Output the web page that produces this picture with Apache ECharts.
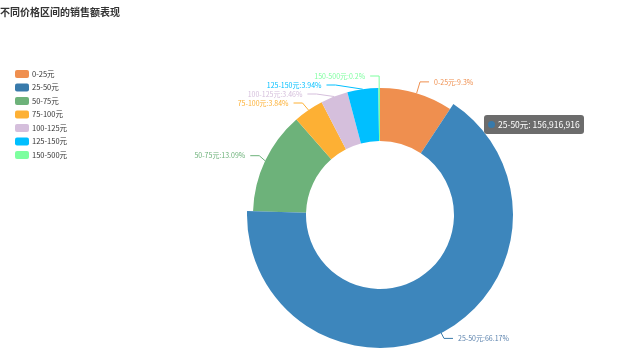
<!DOCTYPE html>
<html>
<head>
<meta charset="utf-8">
<script src="https://cdn.jsdelivr.net/npm/echarts@6/dist/echarts.min.js"></script>
<style>html,body{margin:0;padding:0;background:#fff}#c{width:640px;height:358px}</style>
</head>
<body>
<div id="c"></div>
<script>
var categories = ['0-25元','25-50元','50-75元','75-100元','100-125元','125-150元','150-500元'];
var salesValues = [22054270, 156916916, 31041978, 9106279, 8205137, 9343422, 474285];
var colors = ['#ef8f4f','#387aab','#6db27a','#fdb034','#d5bfdc','#00bfff','#7dff9f'];
var labelColors = ['#ef8f4f','#5b82ad','#6db27a','#fdb034','#d5bfdc','#00bfff','#7dff9f'];

var chart = echarts.init(document.getElementById('c'));
chart.setOption({
  animation: false,
  color: colors,
  title: {
    text: '不同价格区间的销售额表现',
    left: -5, top: 2,
    textStyle: {fontSize: 10, fontWeight: 'bold', color: '#333', fontFamily: 'Noto Sans CJK SC'}
  },
  tooltip: {
    trigger: 'item',
    position: [484, 115],
    backgroundColor: 'rgba(95,95,95,0.92)',
    borderWidth: 0,
    padding: [3, 4],
    extraCssText: 'box-shadow:none;border-radius:3px;',
    textStyle: {color: '#fff', fontSize: 8.5, fontFamily: 'Noto Sans CJK SC'},
    formatter: function (p) {
      return '<span style="display:inline-block;width:7px;height:7px;border-radius:4px;margin-right:3px;background:' + p.color + '"></span>' +
        p.name + ': ' + p.value.toLocaleString('en-US');
    }
  },
  legend: {
    orient: 'vertical',
    left: 10, top: 65,
    itemWidth: 14, itemHeight: 8, itemGap: 5.5,
    icon: 'roundRect',
    textStyle: {fontSize: 7.5, color: '#333', fontFamily: 'Noto Sans CJK SC', padding: [0, 0, 0, -2]},
    data: categories
  },
  series: [{
    type: 'pie',
    center: [380, 215],
    radius: [74, 127],
    startAngle: 90,
    label: {
      formatter: '{b}:{d}%',
      fontSize: 7,
      lineHeight: 7,
      height: 7,
      fontFamily: 'Noto Sans CJK SC'
    },
    labelLine: {length: 12, length2: 9},
    emphasis: {scale: true, scaleSize: 6, label: {show: true}},
    data: categories.map(function (c, i) {
      return {name: c, value: salesValues[i], label: {color: labelColors[i]}};
    })
  }]
});
chart.dispatchAction({type: 'highlight', seriesIndex: 0, dataIndex: 1});
chart.dispatchAction({type: 'showTip', seriesIndex: 0, dataIndex: 1});
</script>
</body>
</html>
